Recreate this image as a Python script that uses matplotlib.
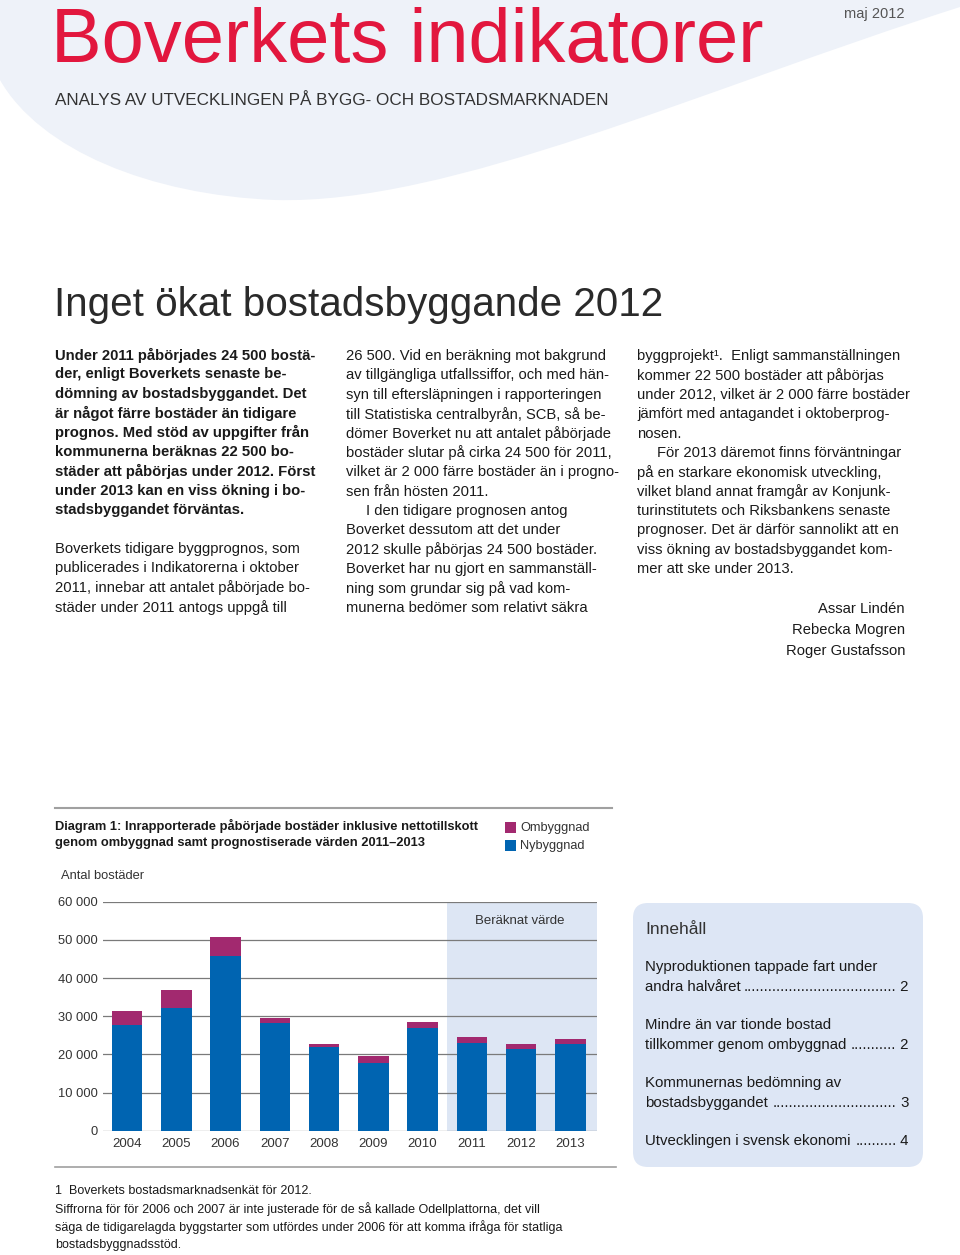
import matplotlib
matplotlib.use("Agg")
import matplotlib.pyplot as plt
from matplotlib import font_manager
from matplotlib.path import Path
from matplotlib.patches import PathPatch, FancyBboxPatch, Rectangle
from matplotlib.ticker import FuncFormatter

# data (antal bostäder)
years = ['2004', '2005', '2006', '2007', '2008', '2009', '2010', '2011', '2012', '2013']
nybyggnad = [27800, 32200, 45900, 28100, 21800, 17700, 27000, 23100, 21300, 22700]
ombyggnad = [3500, 4700, 4900, 1500, 900, 2000, 1600, 1500, 1400, 1400]
y_ticks = [0, 10000, 20000, 30000, 40000, 50000, 60000]
first_estimate = 7          # 2011 onwards is "Beräknat värde"

col1_bold = ["Under 2011 påbörjades 24 500 bostä-",
             "der, enligt Boverkets senaste be-",
             "dömning av bostadsbyggandet. Det",
             "är något färre bostäder än tidigare",
             "prognos. Med stöd av uppgifter från",
             "kommunerna beräknas 22 500 bo-",
             "städer att påbörjas under 2012. Först",
             "under 2013 kan en viss ökning i bo-",
             "stadsbyggandet förväntas."]
col1_text = ["Boverkets tidigare byggprognos, som",
             "publicerades i Indikatorerna i oktober",
             "2011, innebar att antalet påbörjade bo-",
             "städer under 2011 antogs uppgå till"]
col2_text = ["26 500. Vid en beräkning mot bakgrund",
             "av tillgängliga utfallssiffor, och med hän-",
             "syn till eftersläpningen i rapporteringen",
             "till Statistiska centralbyrån, SCB, så be-",
             "dömer Boverket nu att antalet påbörjade",
             "bostäder slutar på cirka 24 500 för 2011,",
             "vilket är 2 000 färre bostäder än i progno-",
             "sen från hösten 2011.",
             "\tI den tidigare prognosen antog",
             "Boverket dessutom att det under",
             "2012 skulle påbörjas 24 500 bostäder.",
             "Boverket har nu gjort en sammanställ-",
             "ning som grundar sig på vad kom-",
             "munerna bedömer som relativt säkra"]
col3_text = ["byggprojekt¹.  Enligt sammanställningen",
             "kommer 22 500 bostäder att påbörjas",
             "under 2012, vilket är 2 000 färre bostäder",
             "jämfört med antagandet i oktoberprog-",
             "nosen.",
             "\tFör 2013 däremot finns förväntningar",
             "på en starkare ekonomisk utveckling,",
             "vilket bland annat framgår av Konjunk-",
             "turinstitutets och Riksbankens senaste",
             "prognoser. Det är därför sannolikt att en",
             "viss ökning av bostadsbyggandet kom-",
             "mer att ske under 2013."]
authors = ["Assar Lindén", "Rebecka Mogren", "Roger Gustafsson"]
contents = [("Nyproduktionen tappade fart under", "andra halvåret", "2"),
            ("Mindre än var tionde bostad", "tillkommer genom ombyggnad", "2"),
            ("Kommunernas bedömning av", "bostadsbyggandet", "3"),
            (None, "Utvecklingen i svensk ekonomi", "4")]
footnotes = ["1  Boverkets bostadsmarknadsenkät för 2012.",
             "Siffrorna för för 2006 och 2007 är inte justerade för de så kallade Odellplattorna, det vill",
             "säga de tidigarelagda byggstarter som utfördes under 2006 för att komma ifråga för statliga",
             "bostadsbyggnadsstöd."]


def pick(*names):
    for n in names:
        try:
            font_manager.findfont(n, fallback_to_default=False)
            return n
        except Exception:
            pass
    return 'DejaVu Sans'


BODY = pick('Liberation Sans', 'Arial', 'DejaVu Sans')
plt.rcParams['font.family'] = BODY

W, H = 960, 1255
fig = plt.figure(figsize=(W / 100, H / 100), dpi=100)
fig.patch.set_facecolor('white')
renderer = fig.canvas.get_renderer()


def fx(x):
    return x / W


def fy(y):
    return 1 - y / H


def T(x, y, s, **kw):
    kw.setdefault('va', 'center')
    return fig.text(fx(x), fy(y), s, **kw)


def fit(t, width):
    w = t.get_window_extent(renderer).width
    t.set_fontsize(t.get_fontsize() * width / w)


# light swoosh in the page header
verts = [(0, 0), (960, 0), (960, 7),
         (700, 90), (450, 205), (275, 200),
         (150, 195), (40, 150), (0, 80), (0, 0)]
codes = [Path.MOVETO, Path.LINETO, Path.LINETO,
         Path.CURVE4, Path.CURVE4, Path.CURVE4,
         Path.CURVE4, Path.CURVE4, Path.CURVE4, Path.CLOSEPOLY]
swoosh = Path([(fx(x), fy(y)) for x, y in verts], codes)
fig.add_artist(PathPatch(swoosh, transform=fig.transFigure, fc='#eef2f9', ec='none', zorder=0))

# header
t = T(51, 62, "Boverkets indikatorer", color='#e2173e', fontsize=52, va='baseline')
fit(t, 713)
t = T(55, 105, "ANALYS AV UTVECKLINGEN PÅ BYGG- OCH BOSTADSMARKNADEN", color='#333333', fontsize=12,
      va='baseline')
fit(t, 553)
T(905, 14, "maj 2012", color='#555555', fontsize=10.5, ha='right')
t = T(54, 316.5, "Inget ökat bostadsbyggande 2012", color='#2a2a2a', fontsize=28, va='baseline')
fit(t, 609)

# body columns
LS = 19.38
for i, s in enumerate(col1_bold):
    T(55, 355 + i * LS, s, fontsize=10.7, fontweight='bold', color='#1a1a1a')
for i, s in enumerate(col1_text):
    T(55, 549 + i * LS, s, fontsize=10.6, color='#1a1a1a')
for col_x, lines in ((346, col2_text), (637, col3_text)):
    for i, s in enumerate(lines):
        indent = 20 if s.startswith('\t') else 0
        T(col_x + indent, 356 + i * LS, s.lstrip('\t'), fontsize=10.6, color='#1a1a1a')
for i, s in enumerate(authors):
    T(905, 609 + i * 21, s, fontsize=10.6, ha='right', color='#1a1a1a')

# chart frame and titles
fig.add_artist(plt.Line2D([fx(55), fx(612)], [fy(808), fy(808)], color='#a0a0a0', lw=1.5))
t = T(55, 826, "Diagram 1: Inrapporterade påbörjade bostäder inklusive nettotillskott",
      fontsize=9.5, fontweight='bold', color='#1a1a1a')
fit(t, 423)
tsize = t.get_fontsize()
T(55, 843, "genom ombyggnad samt prognostiserade värden 2011–2013",
  fontsize=tsize, fontweight='bold', color='#1a1a1a')

COL_NY = '#0064b1'
COL_OM = '#a2296f'
for yy, lab, c in ((827, "Ombyggnad", COL_OM), (845, "Nybyggnad", COL_NY)):
    fig.add_artist(Rectangle((fx(505), fy(yy + 5.5)), 11 / W, 11 / H, transform=fig.transFigure,
                             fc=c, ec='none'))
    T(520, yy + 1, lab, fontsize=9.2, color='#333333')
T(61, 876, "Antal bostäder", fontsize=9.3, color='#333333')

ax = fig.add_axes([fx(103), fy(1130.7), (597 - 103) / W, (1130.7 - 901.7) / H])
x = list(range(len(years)))
ax.axvspan(first_estimate - 0.51, 9.54, color='#dde6f4', lw=0, zorder=0)
for v in y_ticks:
    ax.axhline(v, color='#7a7a7a', lw=0.9, zorder=1)
ax.bar(x, nybyggnad, width=0.62, color=COL_NY, zorder=2)
ax.bar(x, ombyggnad, width=0.62, bottom=nybyggnad, color=COL_OM, zorder=2)
ax.text(7.98, 54900, "Beräknat värde", ha='center', va='center', fontsize=9.5, color='#333333')
ax.set_xlim(-0.487, 9.54)
ax.set_ylim(0, 60000)
ax.set_xticks(x)
ax.set_xticklabels(years, fontsize=9.5, color='#333333')
ax.set_yticks(y_ticks)
ax.yaxis.set_major_formatter(FuncFormatter(lambda v, p: f"{int(v):,}".replace(',', ' ')))
ax.tick_params(axis='y', length=0, pad=4, labelsize=9.3, labelcolor='#333333')
ax.tick_params(axis='x', length=0, pad=5)
for sp in ax.spines.values():
    sp.set_visible(False)
ax.set_facecolor('none')

# contents box
box = FancyBboxPatch((fx(633 + 15), fy(1167 - 15)), (290 - 30) / W, (264 - 30) / H,
                     boxstyle="round", transform=fig.transFigure,
                     fc='#dde6f5', ec='none', mutation_aspect=W / H)
box.set_boxstyle("round", pad=15 / W, rounding_size=15 / W)
fig.add_artist(box)
T(645, 929, "Innehåll", fontsize=12.5, color='#333333')

dot = T(0, 0, "." * 20, fontsize=10.8)
dw = dot.get_window_extent(renderer).width / 20
dot.remove()

ey = 967
for first, second, page in contents:
    if first is not None:
        T(645, ey, first, fontsize=10.8, color='#1a1a1a')
        ey += 20
    left = T(645, ey, second, fontsize=10.8, color='#1a1a1a')
    num = T(909, ey, " " + page, fontsize=10.8, color='#1a1a1a', ha='right')
    l_end = left.get_window_extent(renderer).x1 + 3
    n_start = num.get_window_extent(renderer).x0
    ndots = int((n_start - l_end) / dw)
    T(n_start, ey, "." * ndots, fontsize=10.8, color='#1a1a1a', ha='right')
    ey += 38

# footnotes
fig.add_artist(plt.Line2D([fx(55), fx(616)], [fy(1167), fy(1167)], color='#a0a0a0', lw=1.2))
for i, s in enumerate(footnotes):
    T(55, 1191 + i * 18, s, fontsize=9.0, color='#1a1a1a')

fig.savefig('out.png', dpi=100)
